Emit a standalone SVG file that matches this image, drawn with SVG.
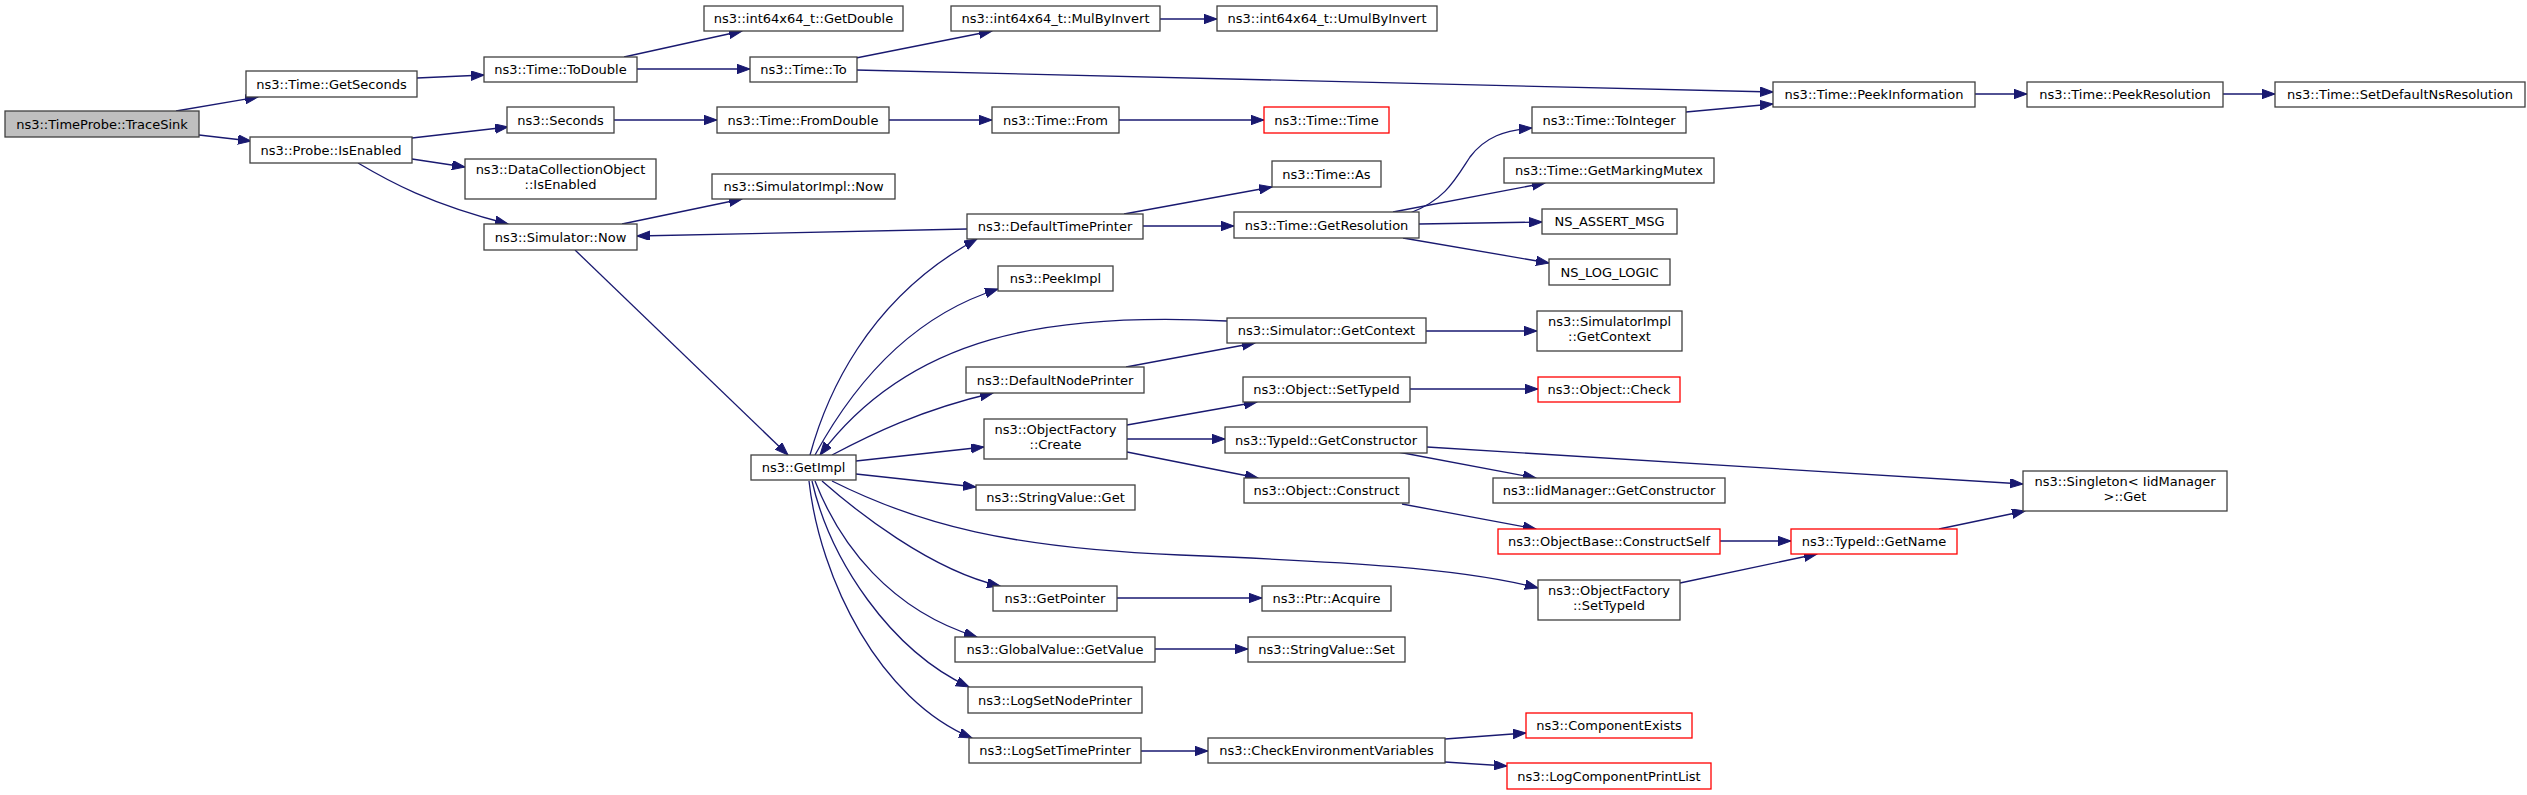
<svg xmlns="http://www.w3.org/2000/svg" width="2527" height="795" viewBox="0 0 2527 795">
<style>
.node rect{fill:#ffffff;stroke:#404040;stroke-width:1.3}
.root rect{fill:#bfbfbf}
.red rect{stroke:#ff0000}
text{font-family:"DejaVu Sans","Liberation Sans",sans-serif;font-size:13px;text-anchor:middle;fill:#000000}
.edges path{fill:none;stroke:#191970;stroke-width:1.3;marker-end:url(#arr)}
</style>
<defs>
<marker id="arr" markerUnits="userSpaceOnUse" markerWidth="14" markerHeight="10" refX="13" refY="4.7" orient="auto">
<path d="M0,0 L13,4.7 L0,9.4 z" fill="#191970" stroke="#191970" stroke-width="1"/>
</marker>
</defs>
<rect x="0" y="0" width="2527" height="795" fill="#ffffff"/>
<g class="edges" id="connectors">
<path d="M176,111 L258,97"/>
<path d="M199,135 L251,141"/>
<path d="M417,78 L484,75"/>
<path d="M624,57 L742,31"/>
<path d="M637,69 L750,69"/>
<path d="M856,58 L992,31"/>
<path d="M1160,19 L1217,19"/>
<path d="M856,70 L1773,92"/>
<path d="M1975,94 L2027,94"/>
<path d="M2223,94 L2275,94"/>
<path d="M412,138 L508,127"/>
<path d="M412,159 L465,167"/>
<path d="M358,163 C390,182 430,204 508,224"/>
<path d="M614,120 L717,120"/>
<path d="M889,120 L992,120"/>
<path d="M1119,120 L1264,120"/>
<path d="M622,224 L742,199"/>
<path d="M575,250 L788,455"/>
<path d="M967,229 L637,236"/>
<path d="M1124,214 L1272,187"/>
<path d="M1143,226 L1234,226"/>
<path d="M1410,213 C1445,200 1455,180 1470,157 C1485,137 1505,130 1532,128"/>
<path d="M1393,212 L1545,183"/>
<path d="M1419,224 L1542,222"/>
<path d="M1403,238 L1549,263"/>
<path d="M1686,112 L1773,104"/>
<path d="M810,455 C825,400 865,300 977,239"/>
<path d="M815,455 C845,400 900,320 998,289"/>
<path d="M1227,321 C1050,312 910,335 820,455"/>
<path d="M1426,331 L1537,331"/>
<path d="M1126,367 L1255,343"/>
<path d="M832,455 C870,435 920,410 993,393"/>
<path d="M856,461 L984,447"/>
<path d="M1127,425 L1257,402"/>
<path d="M1127,439 L1225,439"/>
<path d="M1127,452 L1258,478"/>
<path d="M1410,389 L1538,389"/>
<path d="M1398,452 L1536,478"/>
<path d="M1427,447 L2023,484"/>
<path d="M1402,504 L1536,529"/>
<path d="M1720,541 L1791,541"/>
<path d="M1939,529 L2025,511"/>
<path d="M1680,583 L1817,554"/>
<path d="M832,481 C920,525 1010,548 1180,555 C1350,562 1460,568 1538,588"/>
<path d="M856,474 L976,487"/>
<path d="M822,481 C855,510 930,570 1000,586"/>
<path d="M1117,598 L1262,598"/>
<path d="M815,481 C840,545 890,610 977,637"/>
<path d="M1155,649 L1248,649"/>
<path d="M812,481 C830,560 890,650 969,687"/>
<path d="M809,481 C820,580 880,700 972,738"/>
<path d="M1141,751 L1208,751"/>
<path d="M1445,739 L1526,733"/>
<path d="M1445,762 L1507,766"/>
</g>
<g class="node root" id="n_TraceSink"><rect x="5" y="111" width="194" height="26"/><text x="102" y="128.5">ns3::TimeProbe::TraceSink</text></g>
<g class="node" id="n_GetSeconds"><rect x="246" y="71" width="171" height="26"/><text x="331.5" y="88.5">ns3::Time::GetSeconds</text></g>
<g class="node" id="n_ProbeIsEnabled"><rect x="250" y="137" width="162" height="26"/><text x="331" y="154.5">ns3::Probe::IsEnabled</text></g>
<g class="node" id="n_ToDouble"><rect x="484" y="57" width="153" height="25"/><text x="560.5" y="74">ns3::Time::ToDouble</text></g>
<g class="node" id="n_Seconds"><rect x="507" y="107" width="107" height="26"/><text x="560.5" y="124.5">ns3::Seconds</text></g>
<g class="node" id="n_DCOIsEnabled"><rect x="465" y="159" width="191" height="40"/><text x="560.5" y="173.5">ns3::DataCollectionObject</text><text x="560.5" y="188.5">::IsEnabled</text></g>
<g class="node" id="n_SimulatorNow"><rect x="484" y="224" width="153" height="26"/><text x="560.5" y="241.5">ns3::Simulator::Now</text></g>
<g class="node" id="n_GetDouble"><rect x="704" y="6" width="199" height="25"/><text x="803.5" y="23">ns3::int64x64_t::GetDouble</text></g>
<g class="node" id="n_TimeTo"><rect x="750" y="57" width="107" height="25"/><text x="803.5" y="74">ns3::Time::To</text></g>
<g class="node" id="n_FromDouble"><rect x="717" y="107" width="172" height="26"/><text x="803" y="124.5">ns3::Time::FromDouble</text></g>
<g class="node" id="n_SimImplNow"><rect x="712" y="174" width="183" height="25"/><text x="803.5" y="191">ns3::SimulatorImpl::Now</text></g>
<g class="node" id="n_GetImpl"><rect x="751" y="455" width="105" height="25"/><text x="803.5" y="472">ns3::GetImpl</text></g>
<g class="node" id="n_MulByInvert"><rect x="951" y="6" width="209" height="25"/><text x="1055.5" y="23">ns3::int64x64_t::MulByInvert</text></g>
<g class="node" id="n_From"><rect x="992" y="107" width="127" height="26"/><text x="1055.5" y="124.5">ns3::Time::From</text></g>
<g class="node" id="n_DefaultTimePrinter"><rect x="967" y="214" width="176" height="25"/><text x="1055" y="231">ns3::DefaultTimePrinter</text></g>
<g class="node" id="n_PeekImpl"><rect x="998" y="266" width="115" height="25"/><text x="1055.5" y="283">ns3::PeekImpl</text></g>
<g class="node" id="n_DefaultNodePrinter"><rect x="966" y="367" width="178" height="26"/><text x="1055" y="384.5">ns3::DefaultNodePrinter</text></g>
<g class="node" id="n_OFCreate"><rect x="984" y="419" width="143" height="40"/><text x="1055.5" y="433.5">ns3::ObjectFactory</text><text x="1055.5" y="448.5">::Create</text></g>
<g class="node" id="n_StringValueGet"><rect x="976" y="485" width="159" height="25"/><text x="1055.5" y="502">ns3::StringValue::Get</text></g>
<g class="node" id="n_GetPointer"><rect x="993" y="586" width="124" height="25"/><text x="1055" y="603">ns3::GetPointer</text></g>
<g class="node" id="n_GlobalValueGetValue"><rect x="955" y="637" width="200" height="25"/><text x="1055" y="654">ns3::GlobalValue::GetValue</text></g>
<g class="node" id="n_LogSetNodePrinter"><rect x="968" y="687" width="174" height="26"/><text x="1055" y="704.5">ns3::LogSetNodePrinter</text></g>
<g class="node" id="n_LogSetTimePrinter"><rect x="969" y="738" width="172" height="25"/><text x="1055" y="755">ns3::LogSetTimePrinter</text></g>
<g class="node" id="n_UmulByInvert"><rect x="1217" y="6" width="220" height="25"/><text x="1327" y="23">ns3::int64x64_t::UmulByInvert</text></g>
<g class="node red" id="n_TimeTime"><rect x="1264" y="107" width="125" height="26"/><text x="1326.5" y="124.5">ns3::Time::Time</text></g>
<g class="node" id="n_TimeAs"><rect x="1272" y="161" width="109" height="26"/><text x="1326.5" y="178.5">ns3::Time::As</text></g>
<g class="node" id="n_GetResolution"><rect x="1234" y="212" width="185" height="26"/><text x="1326.5" y="229.5">ns3::Time::GetResolution</text></g>
<g class="node" id="n_SimGetContext"><rect x="1227" y="318" width="199" height="25"/><text x="1326.5" y="335">ns3::Simulator::GetContext</text></g>
<g class="node" id="n_ObjectSetTypeId"><rect x="1243" y="377" width="167" height="25"/><text x="1326.5" y="394">ns3::Object::SetTypeId</text></g>
<g class="node" id="n_TypeIdGetConstructor"><rect x="1225" y="427" width="202" height="26"/><text x="1326" y="444.5">ns3::TypeId::GetConstructor</text></g>
<g class="node" id="n_ObjectConstruct"><rect x="1244" y="478" width="165" height="25"/><text x="1326.5" y="495">ns3::Object::Construct</text></g>
<g class="node" id="n_PtrAcquire"><rect x="1262" y="586" width="129" height="25"/><text x="1326.5" y="603">ns3::Ptr::Acquire</text></g>
<g class="node" id="n_StringValueSet"><rect x="1248" y="637" width="157" height="25"/><text x="1326.5" y="654">ns3::StringValue::Set</text></g>
<g class="node" id="n_CheckEnv"><rect x="1208" y="738" width="237" height="25"/><text x="1326.5" y="755">ns3::CheckEnvironmentVariables</text></g>
<g class="node" id="n_ToInteger"><rect x="1532" y="107" width="154" height="26"/><text x="1609" y="124.5">ns3::Time::ToInteger</text></g>
<g class="node" id="n_GetMarkingMutex"><rect x="1504" y="158" width="210" height="25"/><text x="1609" y="175">ns3::Time::GetMarkingMutex</text></g>
<g class="node" id="n_NS_ASSERT_MSG"><rect x="1542" y="209" width="135" height="25"/><text x="1609.5" y="226">NS_ASSERT_MSG</text></g>
<g class="node" id="n_NS_LOG_LOGIC"><rect x="1549" y="259" width="121" height="26"/><text x="1609.5" y="276.5">NS_LOG_LOGIC</text></g>
<g class="node" id="n_SimImplGetContext"><rect x="1537" y="311" width="145" height="40"/><text x="1609.5" y="325.5">ns3::SimulatorImpl</text><text x="1609.5" y="340.5">::GetContext</text></g>
<g class="node red" id="n_ObjectCheck"><rect x="1538" y="377" width="142" height="25"/><text x="1609" y="394">ns3::Object::Check</text></g>
<g class="node" id="n_IidGetConstructor"><rect x="1493" y="478" width="232" height="25"/><text x="1609" y="495">ns3::IidManager::GetConstructor</text></g>
<g class="node red" id="n_ConstructSelf"><rect x="1498" y="529" width="222" height="25"/><text x="1609" y="546">ns3::ObjectBase::ConstructSelf</text></g>
<g class="node" id="n_OFSetTypeId"><rect x="1538" y="580" width="142" height="40"/><text x="1609" y="594.5">ns3::ObjectFactory</text><text x="1609" y="609.5">::SetTypeId</text></g>
<g class="node red" id="n_ComponentExists"><rect x="1526" y="713" width="166" height="25"/><text x="1609" y="730">ns3::ComponentExists</text></g>
<g class="node red" id="n_LogComponentPrintList"><rect x="1507" y="763" width="204" height="26"/><text x="1609" y="780.5">ns3::LogComponentPrintList</text></g>
<g class="node" id="n_PeekInformation"><rect x="1773" y="82" width="202" height="25"/><text x="1874" y="99">ns3::Time::PeekInformation</text></g>
<g class="node red" id="n_TypeIdGetName"><rect x="1791" y="529" width="166" height="25"/><text x="1874" y="546">ns3::TypeId::GetName</text></g>
<g class="node" id="n_SingletonGet"><rect x="2023" y="471" width="204" height="40"/><text x="2125" y="485.5">ns3::Singleton&lt; IidManager</text><text x="2125" y="500.5">&gt;::Get</text></g>
<g class="node" id="n_PeekResolution"><rect x="2027" y="82" width="196" height="25"/><text x="2125" y="99">ns3::Time::PeekResolution</text></g>
<g class="node" id="n_SetDefaultNsResolution"><rect x="2275" y="82" width="250" height="25"/><text x="2400" y="99">ns3::Time::SetDefaultNsResolution</text></g>
</svg>
